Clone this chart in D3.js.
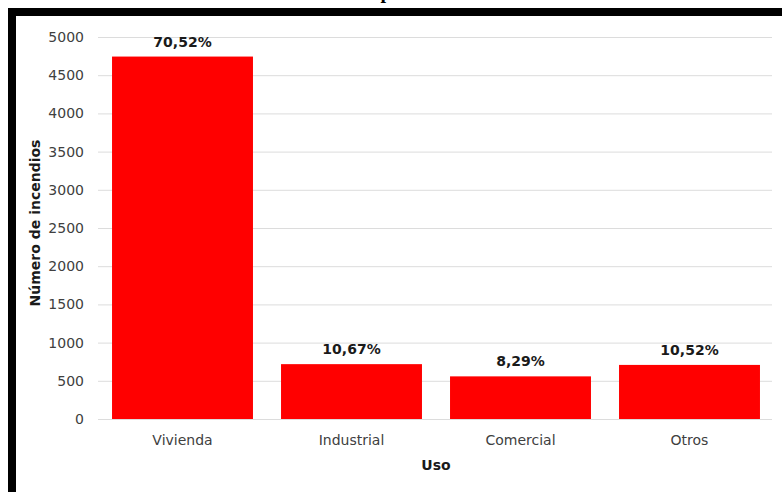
<!DOCTYPE html>
<html>
<head>
<meta charset="utf-8">
<script src="https://cdn.jsdelivr.net/npm/d3@7"></script>
<style>
  body { margin: 0; background: #fff; }
  svg { display: block; }
  .tick text { font-family: "DejaVu Sans", sans-serif; }
</style>
</head>
<body>
<div id="chart"></div>
<script>
// data
const categories = ["Vivienda", "Industrial", "Comercial", "Otros"];
const counts = [4744, 718, 558, 708];
const pctLabels = ["70,52%", "10,67%", "8,29%", "10,52%"];
const yTicks = [0, 500, 1000, 1500, 2000, 2500, 3000, 3500, 4000, 4500, 5000];

const W = 782, H = 492;
const margin = {left: 98, right: 774, top: 37, bottom: 419};

const svg = d3.select("#chart")
  .append("svg")
  .attr("width", W)
  .attr("height", H);

svg.append("rect").attr("width", W).attr("height", H).attr("fill", "#fff");

// title, mostly cut off at the top of the crop
svg.append("text")
  .attr("x", 386)
  .attr("y", -2)
  .attr("text-anchor", "middle")
  .attr("font-family", "Liberation Serif, serif")
  .attr("font-weight", "bold")
  .attr("font-size", 20)
  .text("p");

// black frame (top + left only)
svg.append("rect").attr("x", 8).attr("y", 8).attr("width", W - 8).attr("height", 8).attr("fill", "#000");
svg.append("rect").attr("x", 8).attr("y", 8).attr("width", 8).attr("height", H - 8).attr("fill", "#000");

const xScale = d3.scaleBand()
  .domain(categories)
  .range([margin.left, margin.right])
  .paddingInner(0.166)
  .paddingOuter(0.083);

const yScale = d3.scaleLinear()
  .domain([0, 5000])
  .range([margin.bottom, margin.top]);

// y axis with gridlines
const yAxis = d3.axisLeft(yScale)
  .tickValues(yTicks)
  .tickSize(-(772 - margin.left))
  .tickPadding(14)
  .tickFormat(d3.format("d"));

const y_axis = svg.append("g")
  .attr("transform", `translate(${margin.left},0)`)
  .call(yAxis);
y_axis.select(".domain").remove();
y_axis.selectAll(".tick line").attr("stroke", "#dcdcdc").attr("stroke-width", 1);
y_axis.selectAll(".tick text").attr("font-size", 14).attr("fill", "#404040");

// bars
svg.selectAll("rect.bar")
  .data(counts)
  .join("rect")
  .attr("class", "bar")
  .attr("x", (d, i) => xScale(categories[i]))
  .attr("y", d => yScale(d))
  .attr("width", xScale.bandwidth())
  .attr("height", d => yScale(0) - yScale(d))
  .attr("fill", "#ff0000");

// percentage labels
svg.selectAll("text.pct")
  .data(counts)
  .join("text")
  .attr("class", "pct")
  .attr("x", (d, i) => xScale(categories[i]) + xScale.bandwidth() / 2)
  .attr("y", d => yScale(d) - 10)
  .attr("text-anchor", "middle")
  .attr("font-family", "DejaVu Sans, sans-serif")
  .attr("font-weight", "bold")
  .attr("font-size", 14)
  .attr("fill", "#1a1a1a")
  .text((d, i) => pctLabels[i]);

// x axis
const xAxis = d3.axisBottom(xScale).tickSize(0).tickPadding(16);
const x_axis = svg.append("g")
  .attr("transform", `translate(0,${margin.bottom})`)
  .call(xAxis);
x_axis.select(".domain").remove();
x_axis.selectAll(".tick text").attr("font-size", 14).attr("fill", "#404040");

// axis titles
svg.append("text")
  .attr("x", (margin.left + margin.right) / 2)
  .attr("y", 470)
  .attr("text-anchor", "middle")
  .attr("font-family", "DejaVu Sans, sans-serif")
  .attr("font-weight", "bold")
  .attr("font-size", 14)
  .attr("fill", "#1a1a1a")
  .text("Uso");

svg.append("text")
  .attr("transform", "translate(40,223) rotate(-90)")
  .attr("text-anchor", "middle")
  .attr("font-family", "DejaVu Sans, sans-serif")
  .attr("font-weight", "bold")
  .attr("font-size", 14)
  .attr("fill", "#1a1a1a")
  .text("Número de incendios");
</script>
</body>
</html>
